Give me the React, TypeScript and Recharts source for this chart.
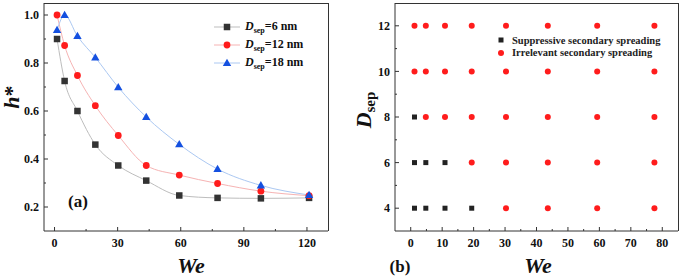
import React from "react";
import { LineChart, Line, XAxis, YAxis, ScatterChart, Scatter, Legend } from "recharts";

// (a) normalized height vs We for three separations
const weValues = [1.2, 4.8, 10.9, 19.4, 30.3, 43.6, 59.3, 77.5, 98.1, 121];
const hSep6 = [0.9, 0.725, 0.6, 0.46, 0.373, 0.31, 0.248, 0.238, 0.236, 0.238];
const hSep12 = [1.0, 0.873, 0.748, 0.622, 0.498, 0.373, 0.333, 0.298, 0.266, 0.247];
const hSep18 = [0.937, 1.0, 0.912, 0.823, 0.699, 0.575, 0.461, 0.358, 0.29, 0.25];
const seriesLabels = ["6 nm", "12 nm", "18 nm"];

// (b) regime map
const mapWe = [1.2, 4.8, 10.9, 19.4, 30.3, 43.6, 59.3, 77.5];
const mapDsep = [4, 6, 8, 10, 12];
const suppressedCount = [4, 3, 1, 0, 0]; // leading We points per Dsep that are suppressive
const regimeLabels = ["Suppressive secondary spreading", "Irrelevant secondary spreading"];

// axis ranges and tick values (majors get labels)
const leftXDomain = [-5, 130];
const leftYDomain = [0.1, 1.05];
const rightXDomain = [-5, 85];
const rightYDomain = [3, 13];
const leftXTicks = [0, 15, 30, 45, 60, 75, 90, 105, 120];
const leftYTicks = [0.2, 0.3, 0.4, 0.5, 0.6, 0.7, 0.8, 0.9, 1.0];
const rightXTicks = [0, 5, 10, 15, 20, 25, 30, 35, 40, 45, 50, 55, 60, 65, 70, 75, 80];
const rightYTicks = [4, 5, 6, 7, 8, 9, 10, 11, 12];

const FONT = "Liberation Serif, DejaVu Serif, serif";
const AXIS = "#333";

// chart boxes
const H = 278;
const X_AXIS_H = 47;
const TOP = 3;
const LEFT_W = 340, LEFT_YAXIS_W = 44, LEFT_RIGHT_M = 12;
const RIGHT_W = 344, RIGHT_YAXIS_W = 55, RIGHT_RIGHT_M = 6;
const PLOT_H = H - TOP - X_AXIS_H;

const lineData = weValues.map((we, i) => ({ we, s6: hSep6[i], s12: hSep12[i], s18: hSep18[i] }));

const suppressed: { we: number; d: number }[] = [];
const irrelevant: { we: number; d: number }[] = [];
mapDsep.forEach((d, di) => {
  mapWe.forEach((we, wi) => {
    if (wi < suppressedCount[di]) suppressed.push({ we, d });
    else irrelevant.push({ we, d });
  });
});

const tickText = { fontFamily: FONT, fontWeight: 700, fontSize: 12, fill: "#111" };

const bottomTick = (isMajor: (v: number) => boolean) => (p: any) => {
  const { x, y, payload } = p;
  const major = isMajor(payload.value);
  return (
    <g key={`bt-${payload.value}`}>
      <line x1={x} x2={x} y1={y} y2={y - (major ? 4 : 2)} stroke={AXIS} />
      {major && (
        <text x={x} y={y + 16} textAnchor="middle" style={tickText}>
          {payload.value}
        </text>
      )}
    </g>
  );
};

const leftTick = (isMajor: (v: number) => boolean, fmt: (v: number) => string) => (p: any) => {
  const { x, y, payload } = p;
  const major = isMajor(payload.value);
  return (
    <g key={`lt-${payload.value}`}>
      <line x1={x} x2={x + (major ? 4 : 2)} y1={y} y2={y} stroke={AXIS} />
      {major && (
        <text x={x - 5} y={y} dy="0.35em" textAnchor="end" style={tickText}>
          {fmt(payload.value)}
        </text>
      )}
    </g>
  );
};

// plot-area border drawn as an overlay (top and right edges of the box)
const FrameBox = ({ left, width }: { left: number; width: number }) => (
  <div
    style={{
      position: "absolute",
      left,
      top: TOP,
      width,
      height: PLOT_H,
      borderTop: `1px solid ${AXIS}`,
      borderRight: `1px solid ${AXIS}`,
      boxSizing: "border-box",
      pointerEvents: "none",
    }}
  />
);

const Square = ({ cx, cy, size, fill }: any) => (
  <rect x={cx - size / 2} y={cy - size / 2} width={size} height={size} fill={fill} />
);
const Circle = ({ cx, cy, r, fill }: any) => <circle cx={cx} cy={cy} r={r} fill={fill} />;
const Triangle = ({ cx, cy, fill }: any) => (
  <polygon points={`${cx},${cy - 4.3} ${cx - 4.2},${cy + 3} ${cx + 4.2},${cy + 3}`} fill={fill} />
);

const SERIES = [
  { key: "s6", line: "#bdbdbd", mark: "#333", Shape: (p: any) => <Square {...p} size={6.5} /> },
  { key: "s12", line: "#f6b3b3", mark: "#ff1c1c", Shape: (p: any) => <Circle {...p} r={3.4} /> },
  { key: "s18", line: "#abc8f2", mark: "#1450e0", Shape: (p: any) => <Triangle {...p} /> },
];

function LeftLegend() {
  return (
    <div style={{ fontFamily: FONT, fontWeight: 700, fontSize: 12, color: "#111" }}>
      {SERIES.map((s, i) => (
        <div key={s.key} style={{ display: "flex", alignItems: "center", height: 18 }}>
          <svg width={30} height={12} style={{ marginRight: 3 }}>
            <line x1={2} x2={28} y1={6} y2={6} stroke={s.line} />
            <s.Shape cx={15} cy={6} fill={s.mark} />
          </svg>
          <span>
            <i>D</i>
            <sub style={{ fontSize: 8, verticalAlign: "-3px" }}>sep</sub>={seriesLabels[i]}
          </span>
        </div>
      ))}
    </div>
  );
}

function RightLegend() {
  return (
    <div style={{ fontFamily: FONT, fontWeight: 700, fontSize: 10.5, color: "#222" }}>
      {regimeLabels.map((label, i) => (
        <div key={label} style={{ display: "flex", alignItems: "center", height: 12.5 }}>
          <svg width={12} height={10} style={{ marginRight: 5 }}>
            {i === 0 ? <Square cx={6} cy={5} size={5} fill="#222" /> : <Circle cx={6} cy={5} r={3} fill="#ff1c1c" />}
          </svg>
          <span>{label}</span>
        </div>
      ))}
    </div>
  );
}

const titleStyle = { fontFamily: FONT, fontWeight: 700, fill: "#111" };

export default function App() {
  return (
    <div style={{ position: "absolute", left: 0, top: 0, width: 684, height: H, background: "#fff" }}>
      <div style={{ position: "absolute", left: 0, top: 0, width: LEFT_W, height: H }}>
        <LineChart width={LEFT_W} height={H} data={lineData} margin={{ top: TOP, right: LEFT_RIGHT_M, bottom: 0, left: 0 }}>
          <XAxis
            dataKey="we"
            type="number"
            domain={leftXDomain}
            ticks={leftXTicks}
            interval={0}
            height={X_AXIS_H}
            tickSize={0}
            tickMargin={0}
            tickLine={false}
            axisLine={{ stroke: AXIS }}
            tick={bottomTick((v) => v % 30 === 0)}
          />
          <YAxis
            type="number"
            domain={leftYDomain}
            ticks={leftYTicks}
            interval={0}
            width={LEFT_YAXIS_W}
            tickSize={0}
            tickMargin={0}
            tickLine={false}
            axisLine={{ stroke: AXIS }}
            tick={leftTick((v) => Math.round(v * 10) % 2 === 0, (v) => v.toFixed(1))}
          />
          {SERIES.map((s) => (
            <Line
              key={s.key}
              dataKey={s.key}
              type="monotone"
              stroke={s.line}
              strokeWidth={1}
              isAnimationActive={false}
              dot={(p: any) => <s.Shape key={`${s.key}-${p.index}`} cx={p.cx} cy={p.cy} fill={s.mark} />}
              activeDot={false}
            />
          ))}
          <Legend
            layout="vertical"
            align="center"
            verticalAlign="middle"
            wrapperStyle={{ left: 212, top: 18, width: 120 }}
            content={() => <LeftLegend />}
          />
          <text transform="translate(11,97) rotate(-90)" textAnchor="middle" dy="0.35em" fontSize={22} style={titleStyle}>
            <tspan fontStyle="italic">h</tspan>*
          </text>
          <text x={191} y={265} textAnchor="middle" dy="0.35em" fontSize={22} fontStyle="italic" style={titleStyle}>
            We
          </text>
          <text x={78} y={201} textAnchor="middle" dy="0.35em" fontSize={17} style={titleStyle}>
            (a)
          </text>
        </LineChart>
        <FrameBox left={LEFT_YAXIS_W} width={LEFT_W - LEFT_YAXIS_W - LEFT_RIGHT_M + 1} />
      </div>
      <div style={{ position: "absolute", left: LEFT_W, top: 0, width: RIGHT_W, height: H }}>
        <ScatterChart width={RIGHT_W} height={H} margin={{ top: TOP, right: RIGHT_RIGHT_M, bottom: 0, left: 0 }}>
          <XAxis
            dataKey="we"
            type="number"
            domain={rightXDomain}
            ticks={rightXTicks}
            interval={0}
            height={X_AXIS_H}
            tickSize={0}
            tickMargin={0}
            tickLine={false}
            axisLine={{ stroke: AXIS }}
            tick={bottomTick((v) => v % 10 === 0)}
          />
          <YAxis
            dataKey="d"
            type="number"
            domain={rightYDomain}
            ticks={rightYTicks}
            interval={0}
            width={RIGHT_YAXIS_W}
            tickSize={0}
            tickMargin={0}
            tickLine={false}
            axisLine={{ stroke: AXIS }}
            tick={leftTick((v) => v % 2 === 0, (v) => String(v))}
          />
          <Scatter
            name={regimeLabels[0]}
            data={suppressed}
            isAnimationActive={false}
            shape={(p: any) => <Square cx={p.cx} cy={p.cy} size={5} fill="#222" />}
          />
          <Scatter
            name={regimeLabels[1]}
            data={irrelevant}
            isAnimationActive={false}
            shape={(p: any) => <Circle cx={p.cx} cy={p.cy} r={3} fill="#ff1c1c" />}
          />
          <Legend
            layout="vertical"
            align="center"
            verticalAlign="middle"
            wrapperStyle={{ left: 155, top: 34, width: 185 }}
            content={() => <RightLegend />}
          />
          <text transform="translate(23,110) rotate(-90)" textAnchor="middle" dy="0.35em" fontSize={22} style={titleStyle}>
            <tspan fontStyle="italic">D</tspan>
            <tspan fontSize={15} dy="4">sep</tspan>
          </text>
          <text x={198} y={265} textAnchor="middle" dy="0.35em" fontSize={22} fontStyle="italic" style={titleStyle}>
            We
          </text>
          <text x={60} y={266} textAnchor="middle" dy="0.35em" fontSize={17} style={titleStyle}>
            (b)
          </text>
        </ScatterChart>
        <FrameBox left={RIGHT_YAXIS_W} width={RIGHT_W - RIGHT_YAXIS_W - RIGHT_RIGHT_M + 1} />
      </div>
    </div>
  );
}
